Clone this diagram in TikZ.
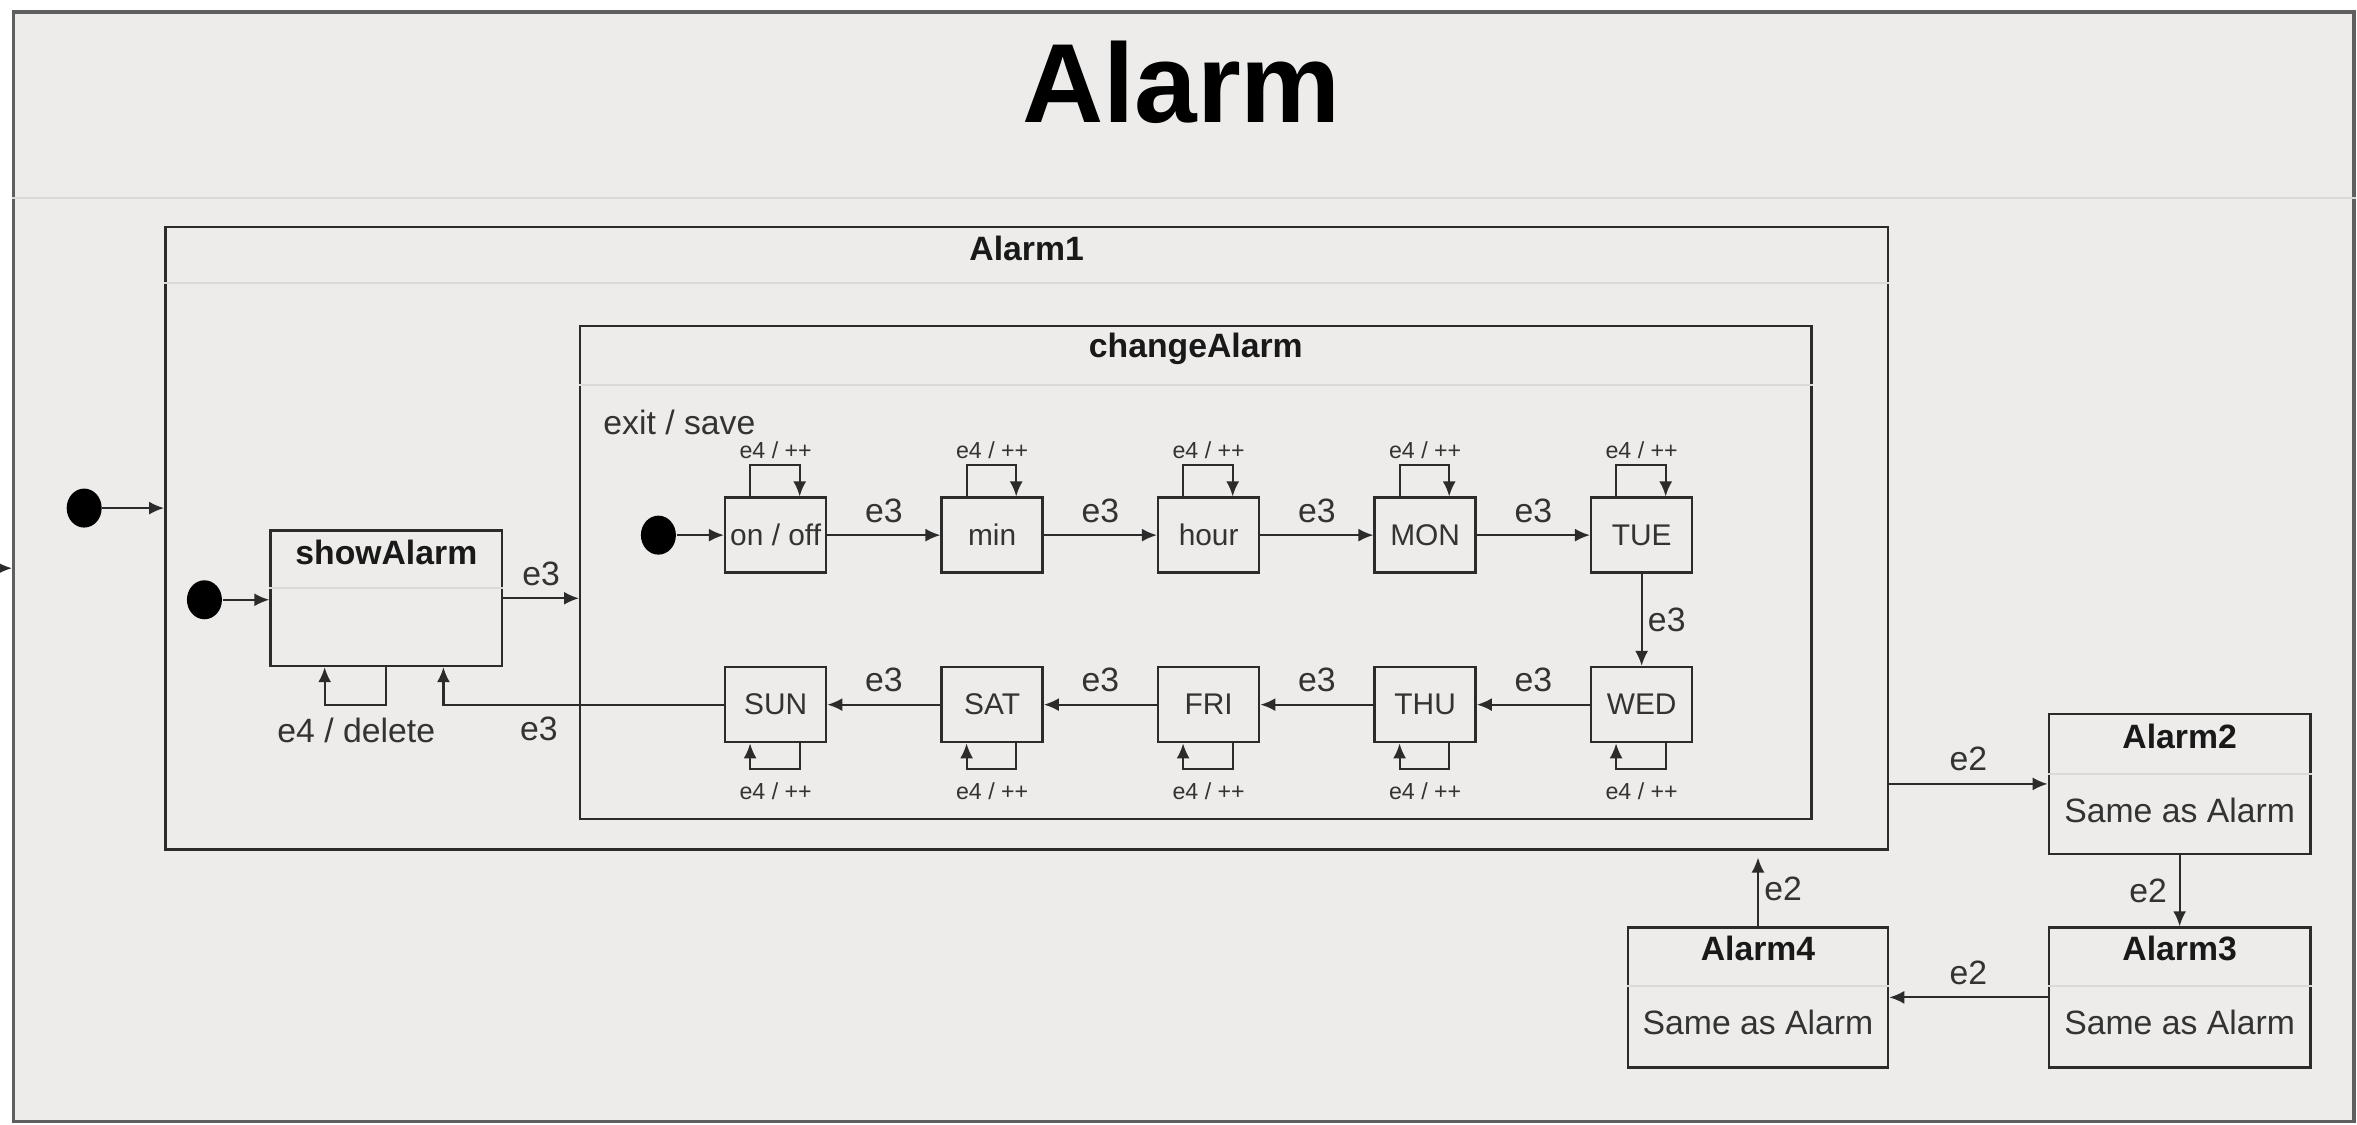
\documentclass[tikz,border=0pt]{standalone}
\usepackage{fontspec}
\setmainfont{Liberation Sans}
\usepackage{tikz}
\usetikzlibrary{positioning,shapes,arrows.meta,calc,fit,backgrounds}
\definecolor{alBg}{HTML}{EDECEA}
\definecolor{alLine}{HTML}{2B2B2B}
\definecolor{alFrame}{HTML}{5F5F5F}
\definecolor{alSep}{HTML}{DAD9D7}
\definecolor{alText}{HTML}{333333}
\tikzset{
    alBoxBase/.style={
        rectangle,
        draw=alLine,
        line width=0.7pt,
        fill=alBg,
        inner sep=0pt
    },
    % States
    dayBox/.style={alBoxBase, minimum width=10.1mm, minimum height=7.5mm,
        font=\fontsize{8.5}{10}\selectfont, text=alText},
    initDot/.style={ellipse, fill=black, minimum width=3.5mm, minimum height=3.9mm, inner sep=0pt},
    % Text
    alTitle/.style={font=\fontsize{9.6}{11}\selectfont\bfseries, text=black!90},
    alLabel/.style={font=\fontsize{9.6}{11}\selectfont, text=alText},
    alSmall/.style={font=\fontsize{6.6}{8}\selectfont, text=alText},
    % Lines
    trans/.style={-{Latex[length=1.5mm,width=1.3mm]}, line width=0.6pt, draw=alLine},
    sepLine/.style={draw=alSep, line width=0.6pt}
}

\begin{document}
\begin{tikzpicture}[x=0.1503mm, y=-0.1503mm]
\useasboundingbox (0,0) rectangle (1568,748);
\fill[white] (0,0) rectangle (1568,748);

% outer state
\node[alBoxBase, fit={(9,8) (1566,746)}, draw=alFrame, line width=0.9pt] (alarm) {};
\draw[sepLine] ($(alarm.north west)+(0,125)$) -- ($(alarm.north east)+(0,125)$);
\node[font=\fontsize{32}{38}\selectfont\bfseries] (alarmT) at (786,55) {Alarm};
\coordinate (entry) at (0,378);
\draw[trans] (entry) -- (entry -| alarm.west);

% Alarm1
\node[alBoxBase, fit={(110,151) (1256,565)}] (alarm1) {};
\draw[sepLine] ($(alarm1.north west)+(0,38)$) -- ($(alarm1.north east)+(0,38)$);
\node[alTitle] (alarm1T) at ($(alarm1.north)+(0,15)$) {Alarm1};
\node[initDot] (init0) at (56,338) {};
\draw[trans] (init0) -- (init0 -| alarm1.west);

% showAlarm
\node[alBoxBase, fit={(180,353) (334,443)}] (show) {};
\draw[sepLine] ($(show.north west)+(0,39)$) -- ($(show.north east)+(0,39)$);
\node[alTitle] (showT) at ($(show.north)+(0,15)$) {showAlarm};
\node[initDot] (init1) at (136,399) {};
\draw[trans] (init1) -- (init1 -| show.west);
\draw[trans] (show.south) |- ($(show.south)+(-41,25)$) -- ($(show.south)+(-41,0)$);
\node[alLabel] (showLp) at ($(show.south)+(-20,42)$) {e4 / delete};

% changeAlarm
\node[alBoxBase, fit={(386,217) (1205,545)}] (change) {};
\draw[sepLine] ($(change.north west)+(0,40)$) -- ($(change.north east)+(0,40)$);
\node[alTitle] (changeT) at ($(change.north)+(0,16)$) {changeAlarm};
\node[alLabel, anchor=west] (exitT) at ($(change.north west)+(8,65)$) {exit / save};
\draw[trans] (show.east) -- (show.east -| change.west) node[midway, above, alLabel] {e3};

% days
\node[dayBox] (dOn) at (516,356) {on / off};
\node[dayBox, right=11.3mm of dOn] (dMin) {min};
\node[dayBox, right=11.3mm of dMin] (dHour) {hour};
\node[dayBox, right=11.3mm of dHour] (dMon) {MON};
\node[dayBox, right=11.3mm of dMon] (dTue) {TUE};
\node[dayBox, below=9.2mm of dTue] (dWed) {WED};
\node[dayBox, below=9.2mm of dMon] (dThu) {THU};
\node[dayBox, below=9.2mm of dHour] (dFri) {FRI};
\node[dayBox, below=9.2mm of dMin] (dSat) {SAT};
\node[dayBox, below=9.2mm of dOn] (dSun) {SUN};
\node[initDot] (init2) at (438,356) {};
\draw[trans] (init2) -- (dOn);

\draw[trans] (dOn) -- node[above, alLabel] {e3} (dMin);
\draw[trans] (dMin) -- node[above, alLabel] {e3} (dHour);
\draw[trans] (dHour) -- node[above, alLabel] {e3} (dMon);
\draw[trans] (dMon) -- node[above, alLabel] {e3} (dTue);
\draw[trans] (dTue) -- node[right, inner sep=1.5pt, alLabel] {e3} (dWed);
\draw[trans] (dWed) -- node[above, alLabel] {e3} (dThu);
\draw[trans] (dThu) -- node[above, alLabel] {e3} (dFri);
\draw[trans] (dFri) -- node[above, alLabel] {e3} (dSat);
\draw[trans] (dSat) -- node[above, alLabel] {e3} (dSun);
\draw[trans] (dSun.west) -| ($(show.south)+(38,0)$) node[pos=0.33, below, alLabel] {e3};

\foreach \n in {dOn,dMin,dHour,dMon,dTue}{
  \draw[trans] ($(\n.north)+(-17,0)$) |- ($(\n.north)+(16,-21)$) -- ($(\n.north)+(16,0)$);
  \node[alSmall] (\n Lp) at ($(\n.north)+(0,-31)$) {e4 / ++};
}
\foreach \n in {dSun,dSat,dFri,dThu,dWed}{
  \draw[trans] ($(\n.south)+(16,0)$) |- ($(\n.south)+(-17,17)$) -- ($(\n.south)+(-17,0)$);
  \node[alSmall] (\n Lp) at ($(\n.south)+(0,32)$) {e4 / ++};
}

% Alarm2..4
\node[alBoxBase, fit={(1363,475) (1537,568)}] (alarm2) {};
\draw[sepLine] ($(alarm2.north west)+(0,41)$) -- ($(alarm2.north east)+(0,41)$);
\node[alTitle] (alarm2T) at ($(alarm2.north)+(0,16)$) {Alarm2};
\node[alLabel] (alarm2B) at ($(alarm2.north)+(0,65)$) {Same as Alarm};

\node[alBoxBase, fit={(1363,617) (1537,710)}] (alarm3) {};
\draw[sepLine] ($(alarm3.north west)+(0,40)$) -- ($(alarm3.north east)+(0,40)$);
\node[alTitle] (alarm3T) at ($(alarm3.north)+(0,15)$) {Alarm3};
\node[alLabel] (alarm3B) at ($(alarm3.north)+(0,64)$) {Same as Alarm};

\node[alBoxBase, fit={(1083,617) (1256,710)}] (alarm4) {};
\draw[sepLine] ($(alarm4.north west)+(0,40)$) -- ($(alarm4.north east)+(0,40)$);
\node[alTitle] (alarm4T) at ($(alarm4.north)+(0,15)$) {Alarm4};
\node[alLabel] (alarm4B) at ($(alarm4.north)+(0,64)$) {Same as Alarm};

\draw[trans] (alarm2.west -| alarm1.east) -- node[above, alLabel] {e2} (alarm2.west);
\draw[trans] (alarm2) -- node[left, alLabel] {e2} (alarm3);
\draw[trans] (alarm3) -- node[above, alLabel] {e2} (alarm4);
\draw[trans, shorten >=0.7mm] (alarm4.north) -- node[right, inner sep=1.5pt, alLabel] {e2} (alarm4.north |- alarm1.south);
\end{tikzpicture}
\end{document}
